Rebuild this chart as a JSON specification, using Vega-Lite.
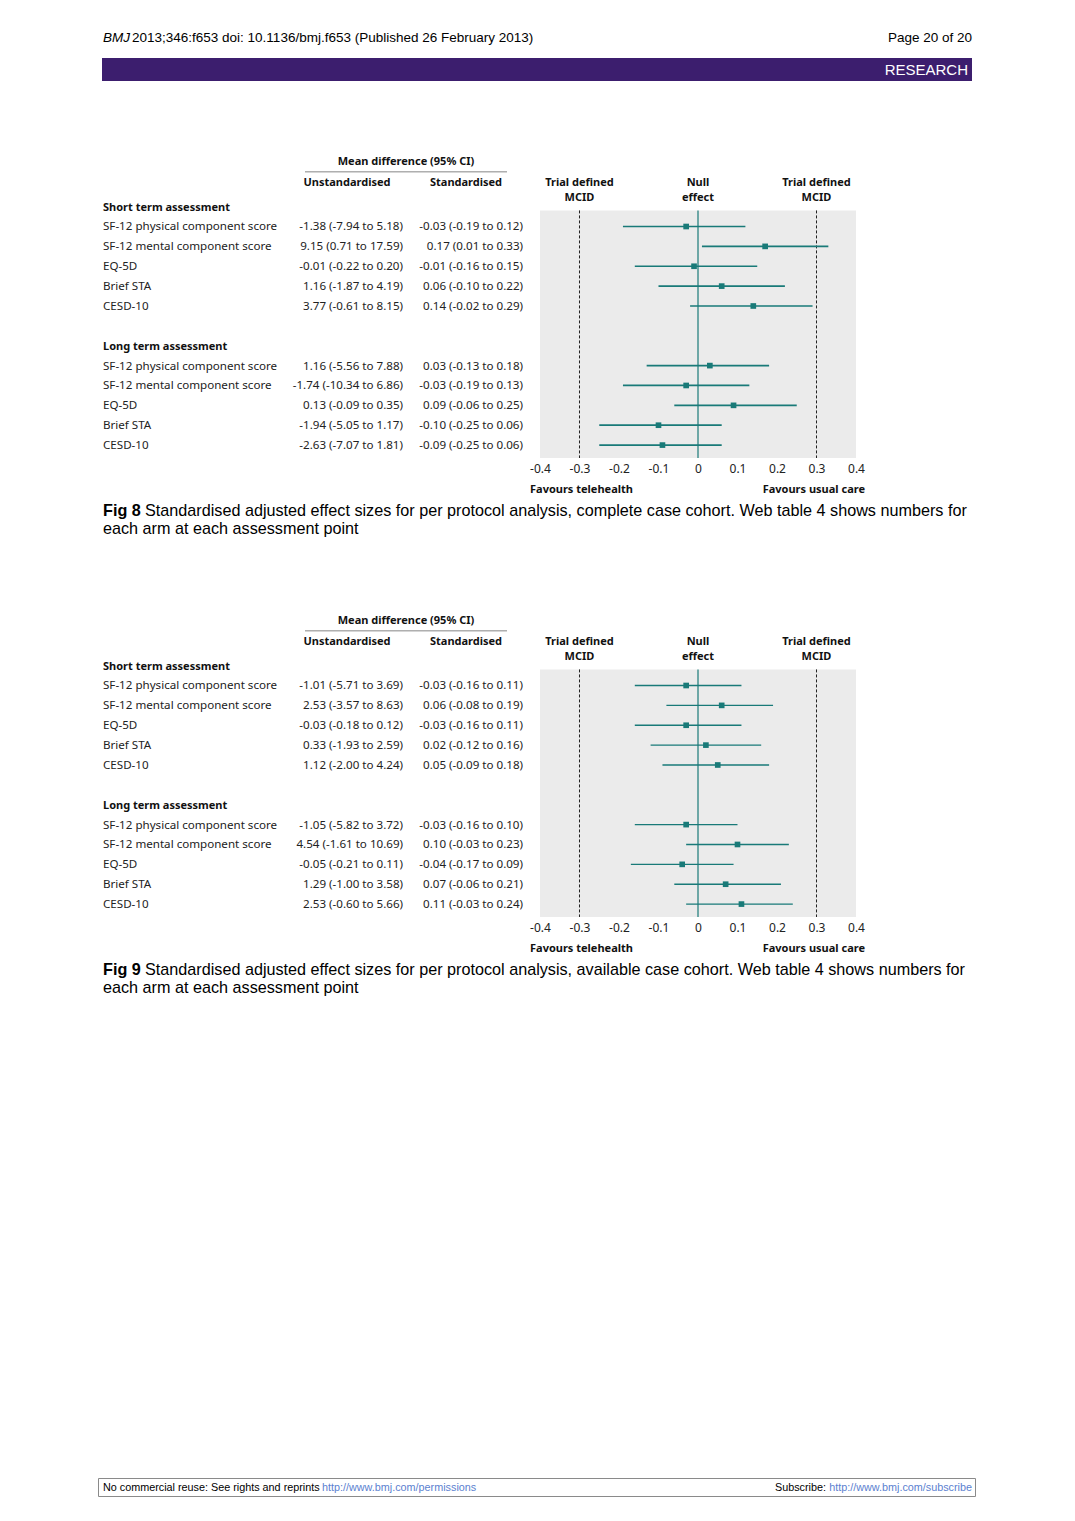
{
  "$schema": "https://vega.github.io/schema/vega-lite/v6.json",
  "background": "white",
  "padding": {"left": 98, "top": 0, "right": 0, "bottom": 0},
  "spacing": 0,
  "config": {"view": {"stroke": null}, "concat": {"spacing": 0}, "axisX": {"labelOverlap": false, "labelFlush": false, "labelBound": false}},
  "datasets": {
    "fig8": [
      {"row": 0, "label": "Short term assessment", "header": true},
      {"row": 1, "label": "SF-12 physical component score", "unstd": "-1.38 (-7.94 to 5.18)", "std": "-0.03 (-0.19 to 0.12)", "est": -0.03, "lo": -0.19, "hi": 0.12, "header": false},
      {"row": 2, "label": "SF-12 mental component score", "unstd": "9.15 (0.71 to 17.59)", "std": "0.17 (0.01 to 0.33)", "est": 0.17, "lo": 0.01, "hi": 0.33, "header": false},
      {"row": 3, "label": "EQ-5D", "unstd": "-0.01 (-0.22 to 0.20)", "std": "-0.01 (-0.16 to 0.15)", "est": -0.01, "lo": -0.16, "hi": 0.15, "header": false},
      {"row": 4, "label": "Brief STA", "unstd": "1.16 (-1.87 to 4.19)", "std": "0.06 (-0.10 to 0.22)", "est": 0.06, "lo": -0.10, "hi": 0.22, "header": false},
      {"row": 5, "label": "CESD-10", "unstd": "3.77 (-0.61 to 8.15)", "std": "0.14 (-0.02 to 0.29)", "est": 0.14, "lo": -0.02, "hi": 0.29, "header": false},
      {"row": 7, "label": "Long term assessment", "header": true},
      {"row": 8, "label": "SF-12 physical component score", "unstd": "1.16 (-5.56 to 7.88)", "std": "0.03 (-0.13 to 0.18)", "est": 0.03, "lo": -0.13, "hi": 0.18, "header": false},
      {"row": 9, "label": "SF-12 mental component score", "unstd": "-1.74 (-10.34 to 6.86)", "std": "-0.03 (-0.19 to 0.13)", "est": -0.03, "lo": -0.19, "hi": 0.13, "header": false},
      {"row": 10, "label": "EQ-5D", "unstd": "0.13 (-0.09 to 0.35)", "std": "0.09 (-0.06 to 0.25)", "est": 0.09, "lo": -0.06, "hi": 0.25, "header": false},
      {"row": 11, "label": "Brief STA", "unstd": "-1.94 (-5.05 to 1.17)", "std": "-0.10 (-0.25 to 0.06)", "est": -0.10, "lo": -0.25, "hi": 0.06, "header": false},
      {"row": 12, "label": "CESD-10", "unstd": "-2.63 (-7.07 to 1.81)", "std": "-0.09 (-0.25 to 0.06)", "est": -0.09, "lo": -0.25, "hi": 0.06, "header": false}
    ],
    "fig9": [
      {"row": 0, "label": "Short term assessment", "header": true},
      {"row": 1, "label": "SF-12 physical component score", "unstd": "-1.01 (-5.71 to 3.69)", "std": "-0.03 (-0.16 to 0.11)", "est": -0.03, "lo": -0.16, "hi": 0.11, "header": false},
      {"row": 2, "label": "SF-12 mental component score", "unstd": "2.53 (-3.57 to 8.63)", "std": "0.06 (-0.08 to 0.19)", "est": 0.06, "lo": -0.08, "hi": 0.19, "header": false},
      {"row": 3, "label": "EQ-5D", "unstd": "-0.03 (-0.18 to 0.12)", "std": "-0.03 (-0.16 to 0.11)", "est": -0.03, "lo": -0.16, "hi": 0.11, "header": false},
      {"row": 4, "label": "Brief STA", "unstd": "0.33 (-1.93 to 2.59)", "std": "0.02 (-0.12 to 0.16)", "est": 0.02, "lo": -0.12, "hi": 0.16, "header": false},
      {"row": 5, "label": "CESD-10", "unstd": "1.12 (-2.00 to 4.24)", "std": "0.05 (-0.09 to 0.18)", "est": 0.05, "lo": -0.09, "hi": 0.18, "header": false},
      {"row": 7, "label": "Long term assessment", "header": true},
      {"row": 8, "label": "SF-12 physical component score", "unstd": "-1.05 (-5.82 to 3.72)", "std": "-0.03 (-0.16 to 0.10)", "est": -0.03, "lo": -0.16, "hi": 0.10, "header": false},
      {"row": 9, "label": "SF-12 mental component score", "unstd": "4.54 (-1.61 to 10.69)", "std": "0.10 (-0.03 to 0.23)", "est": 0.10, "lo": -0.03, "hi": 0.23, "header": false},
      {"row": 10, "label": "EQ-5D", "unstd": "-0.05 (-0.21 to 0.11)", "std": "-0.04 (-0.17 to 0.09)", "est": -0.04, "lo": -0.17, "hi": 0.09, "header": false},
      {"row": 11, "label": "Brief STA", "unstd": "1.29 (-1.00 to 3.58)", "std": "0.07 (-0.06 to 0.21)", "est": 0.07, "lo": -0.06, "hi": 0.21, "header": false},
      {"row": 12, "label": "CESD-10", "unstd": "2.53 (-0.60 to 5.66)", "std": "0.11 (-0.03 to 0.24)", "est": 0.11, "lo": -0.03, "hi": 0.24, "header": false}
    ],
    "refs": [{"ref": -0.3, "l1": "Trial defined", "l2": "MCID"}, {"ref": 0, "l1": "Null", "l2": "effect"}, {"ref": 0.3, "l1": "Trial defined", "l2": "MCID"}]
  },
  "vconcat": [
    {
      "width": 878, "height": 150,
      "layer": [
        {"data": {"values": [{"t": "bar"}]}, "mark": {"type": "rect", "color": "#3c1e6e"}, "encoding": {"x": {"value": 4}, "x2": {"value": 874}, "y": {"value": 58}, "y2": {"value": 81}}},
        {"data": {"values": [{"t": "BMJ"}]}, "mark": {"type": "text", "align": "left", "baseline": "middle", "font": "Liberation Sans", "fontSize": 13.5, "fontStyle": "italic", "color": "#000"}, "encoding": {"x": {"value": 5}, "y": {"value": 38}, "text": {"field": "t"}}},
        {"data": {"values": [{"t": "2013;346:f653 doi: 10.1136/bmj.f653 (Published 26 February 2013)"}]}, "mark": {"type": "text", "align": "left", "baseline": "middle", "font": "Liberation Sans", "fontSize": 13.5, "color": "#000"}, "encoding": {"x": {"value": 34}, "y": {"value": 38}, "text": {"field": "t"}}},
        {"data": {"values": [{"t": "Page 20 of 20"}]}, "mark": {"type": "text", "align": "right", "baseline": "middle", "font": "Liberation Sans", "fontSize": 13.5, "color": "#000"}, "encoding": {"x": {"value": 874}, "y": {"value": 38}, "text": {"field": "t"}}},
        {"data": {"values": [{"t": "RESEARCH"}]}, "mark": {"type": "text", "align": "right", "baseline": "middle", "font": "Liberation Sans", "fontSize": 15, "color": "#ffffff"}, "encoding": {"x": {"value": 870}, "y": {"value": 70}, "text": {"field": "t"}}}
      ]
    },
    {
      "spacing": 0,
      "hconcat": [
        {
          "width": 431, "height": 350,
          "data": {"name": "fig8"},
          "layer": [
            {"transform": [{"filter": "datum.header"}], "mark": {"type": "text", "align": "left", "baseline": "middle", "dy": 1, "font": "Noto Sans", "fontSize": 11, "fontWeight": "bold", "color": "#111"}, "encoding": {"x": {"value": 5}, "y": {"field": "row", "type": "quantitative", "scale": {"domain": [-2.85, 14.765], "reverse": true, "nice": false, "zero": false}, "axis": null}, "text": {"field": "label"}}},
            {"transform": [{"filter": "!datum.header"}], "mark": {"type": "text", "align": "left", "baseline": "middle", "dy": 1, "font": "Noto Sans", "fontSize": 11.6, "color": "#222"}, "encoding": {"x": {"value": 5}, "y": {"field": "row", "type": "quantitative", "axis": null}, "text": {"field": "label"}}},
            {"transform": [{"filter": "!datum.header"}], "mark": {"type": "text", "align": "right", "baseline": "middle", "dy": 1, "font": "Noto Sans", "fontSize": 11.6, "color": "#222"}, "encoding": {"x": {"value": 305}, "y": {"field": "row", "type": "quantitative", "axis": null}, "text": {"field": "unstd"}}},
            {"transform": [{"filter": "!datum.header"}], "mark": {"type": "text", "align": "right", "baseline": "middle", "dy": 1, "font": "Noto Sans", "fontSize": 11.6, "color": "#222"}, "encoding": {"x": {"value": 425}, "y": {"field": "row", "type": "quantitative", "axis": null}, "text": {"field": "std"}}},
            {"data": {"values": [{"t": "Mean difference (95% CI)"}]}, "mark": {"type": "text", "align": "center", "baseline": "middle", "dy": 2, "font": "Noto Sans", "fontSize": 11, "fontWeight": "bold", "color": "#111"}, "encoding": {"x": {"value": 308}, "y": {"datum": -2.33, "type": "quantitative", "axis": null}, "text": {"field": "t"}}},
            {"data": {"values": [{"t": "line"}]}, "mark": {"type": "rule", "color": "#666", "strokeWidth": 0.8}, "encoding": {"x": {"value": 207}, "x2": {"value": 409}, "y": {"datum": -1.75, "type": "quantitative", "axis": null}}},
            {"data": {"values": [{"t": "Unstandardised"}]}, "mark": {"type": "text", "align": "center", "baseline": "middle", "dy": 1, "font": "Noto Sans", "fontSize": 11, "fontWeight": "bold", "color": "#111"}, "encoding": {"x": {"value": 249}, "y": {"datum": -1.22, "type": "quantitative", "axis": null}, "text": {"field": "t"}}},
            {"data": {"values": [{"t": "Standardised"}]}, "mark": {"type": "text", "align": "center", "baseline": "middle", "dy": 1, "font": "Noto Sans", "fontSize": 11, "fontWeight": "bold", "color": "#111"}, "encoding": {"x": {"value": 368}, "y": {"datum": -1.22, "type": "quantitative", "axis": null}, "text": {"field": "t"}}}
          ]
        },
        {
          "width": 316, "height": 308,
          "data": {"name": "fig8"},
          "layer": [
            {"data": {"values": [{"t": "panel"}]}, "mark": {"type": "rect", "color": "#ebebeb"}, "encoding": {"x": {"datum": -0.4, "type": "quantitative", "scale": {"domain": [-0.4, 0.4], "nice": false, "zero": false}, "axis": {"values": [-0.4, -0.3, -0.2, -0.1, 0, 0.1, 0.2, 0.3, 0.4], "tickCount": 9, "labelExpr": "'' + round(datum.value*10)/10", "title": null, "grid": false, "domain": false, "ticks": false, "tickSize": 0, "labelPadding": 5, "labelFont": "Noto Sans", "labelFontSize": 12, "labelColor": "#222", "labelFlush": false, "labelOverlap": false}}, "x2": {"datum": 0.4}, "y": {"datum": 0.19, "type": "quantitative", "scale": {"domain": [-2.85, 12.65], "reverse": true, "nice": false, "zero": false}, "axis": null}, "y2": {"datum": 12.65}}},
            {"data": {"values": [{"mcid": -0.3}, {"mcid": 0.3}]}, "mark": {"type": "rule", "color": "#222", "strokeDash": [3, 2], "strokeWidth": 1}, "encoding": {"x": {"field": "mcid", "type": "quantitative", "axis": {"values": [-0.4, -0.3, -0.2, -0.1, 0, 0.1, 0.2, 0.3, 0.4], "tickCount": 9, "labelExpr": "'' + round(datum.value*10)/10", "title": null, "grid": false, "domain": false, "ticks": false, "tickSize": 0, "labelPadding": 5, "labelFont": "Noto Sans", "labelFontSize": 12, "labelColor": "#222", "labelFlush": false, "labelOverlap": false}}, "y": {"datum": 0.19, "type": "quantitative", "axis": null}, "y2": {"datum": 12.65}}},
            {"data": {"values": [{"nullref": 0}]}, "mark": {"type": "rule", "color": "#197a78", "strokeWidth": 1.2}, "encoding": {"x": {"field": "nullref", "type": "quantitative", "axis": {"values": [-0.4, -0.3, -0.2, -0.1, 0, 0.1, 0.2, 0.3, 0.4], "tickCount": 9, "labelExpr": "'' + round(datum.value*10)/10", "title": null, "grid": false, "domain": false, "ticks": false, "tickSize": 0, "labelPadding": 5, "labelFont": "Noto Sans", "labelFontSize": 12, "labelColor": "#222", "labelFlush": false, "labelOverlap": false}}, "y": {"datum": 0.19, "type": "quantitative", "axis": null}, "y2": {"datum": 12.65}}},
            {"transform": [{"filter": "isValid(datum.est)"}], "mark": {"type": "rule", "color": "#197a78", "strokeWidth": 1.7}, "encoding": {"x": {"field": "lo", "type": "quantitative", "axis": {"values": [-0.4, -0.3, -0.2, -0.1, 0, 0.1, 0.2, 0.3, 0.4], "tickCount": 9, "labelExpr": "'' + round(datum.value*10)/10", "title": null, "grid": false, "domain": false, "ticks": false, "tickSize": 0, "labelPadding": 5, "labelFont": "Noto Sans", "labelFontSize": 12, "labelColor": "#222", "labelFlush": false, "labelOverlap": false}}, "x2": {"field": "hi"}, "y": {"field": "row", "type": "quantitative", "axis": null}}},
            {"transform": [{"filter": "isValid(datum.est)"}], "mark": {"type": "point", "shape": "square", "filled": true, "opacity": 1, "size": 32, "color": "#197a78"}, "encoding": {"x": {"field": "est", "type": "quantitative", "axis": {"values": [-0.4, -0.3, -0.2, -0.1, 0, 0.1, 0.2, 0.3, 0.4], "tickCount": 9, "labelExpr": "'' + round(datum.value*10)/10", "title": null, "grid": false, "domain": false, "ticks": false, "tickSize": 0, "labelPadding": 5, "labelFont": "Noto Sans", "labelFontSize": 12, "labelColor": "#222", "labelFlush": false, "labelOverlap": false}}, "y": {"field": "row", "type": "quantitative", "axis": null}}},
            {"data": {"name": "refs"}, "mark": {"type": "text", "align": "center", "baseline": "middle", "dy": 2, "font": "Noto Sans", "fontSize": 11, "fontWeight": "bold", "color": "#111"}, "encoding": {"x": {"field": "ref", "type": "quantitative"}, "y": {"datum": -1.27, "type": "quantitative", "axis": null}, "text": {"field": "l1"}}},
            {"data": {"name": "refs"}, "mark": {"type": "text", "align": "center", "baseline": "middle", "dy": 2, "font": "Noto Sans", "fontSize": 11, "fontWeight": "bold", "color": "#111"}, "encoding": {"x": {"field": "ref", "type": "quantitative"}, "y": {"datum": -0.51, "type": "quantitative", "axis": null}, "text": {"field": "l2"}}},
            {"data": {"values": [{"t": "Favours telehealth"}]}, "mark": {"type": "text", "align": "left", "baseline": "middle", "dx": -10, "dy": 1, "font": "Noto Sans", "fontSize": 11, "fontWeight": "bold", "color": "#111"}, "encoding": {"x": {"datum": -0.4, "type": "quantitative"}, "y": {"value": 339}, "text": {"field": "t"}}},
            {"data": {"values": [{"t": "Favours usual care"}]}, "mark": {"type": "text", "align": "right", "baseline": "middle", "dx": 9, "dy": 1, "font": "Noto Sans", "fontSize": 11, "fontWeight": "bold", "color": "#111"}, "encoding": {"x": {"datum": 0.4, "type": "quantitative"}, "y": {"value": 339}, "text": {"field": "t"}}}
          ]
        }
      ]
    },
    {
      "width": 878, "height": 109,
      "layer": [
        {"data": {"values": [{"t": "Fig 8"}]}, "mark": {"type": "text", "align": "left", "baseline": "middle", "font": "Liberation Sans", "fontSize": 16.2, "fontWeight": "bold", "color": "#000"}, "encoding": {"x": {"value": 5}, "y": {"value": 11}, "text": {"field": "t"}}},
        {"data": {"values": [{"t": "Standardised adjusted effect sizes for per protocol analysis, complete case cohort. Web table 4 shows numbers for"}]}, "mark": {"type": "text", "align": "left", "baseline": "middle", "font": "Liberation Sans", "fontSize": 16.2, "color": "#000"}, "encoding": {"x": {"value": 47}, "y": {"value": 11}, "text": {"field": "t"}}},
        {"data": {"values": [{"t": "each arm at each assessment point"}]}, "mark": {"type": "text", "align": "left", "baseline": "middle", "font": "Liberation Sans", "fontSize": 16.2, "color": "#000"}, "encoding": {"x": {"value": 5}, "y": {"value": 29}, "text": {"field": "t"}}}
      ]
    },
    {
      "spacing": 0,
      "hconcat": [
        {
          "width": 431, "height": 350,
          "data": {"name": "fig9"},
          "layer": [
            {"transform": [{"filter": "datum.header"}], "mark": {"type": "text", "align": "left", "baseline": "middle", "dy": 1, "font": "Noto Sans", "fontSize": 11, "fontWeight": "bold", "color": "#111"}, "encoding": {"x": {"value": 5}, "y": {"field": "row", "type": "quantitative", "scale": {"domain": [-2.85, 14.765], "reverse": true, "nice": false, "zero": false}, "axis": null}, "text": {"field": "label"}}},
            {"transform": [{"filter": "!datum.header"}], "mark": {"type": "text", "align": "left", "baseline": "middle", "dy": 1, "font": "Noto Sans", "fontSize": 11.6, "color": "#222"}, "encoding": {"x": {"value": 5}, "y": {"field": "row", "type": "quantitative", "axis": null}, "text": {"field": "label"}}},
            {"transform": [{"filter": "!datum.header"}], "mark": {"type": "text", "align": "right", "baseline": "middle", "dy": 1, "font": "Noto Sans", "fontSize": 11.6, "color": "#222"}, "encoding": {"x": {"value": 305}, "y": {"field": "row", "type": "quantitative", "axis": null}, "text": {"field": "unstd"}}},
            {"transform": [{"filter": "!datum.header"}], "mark": {"type": "text", "align": "right", "baseline": "middle", "dy": 1, "font": "Noto Sans", "fontSize": 11.6, "color": "#222"}, "encoding": {"x": {"value": 425}, "y": {"field": "row", "type": "quantitative", "axis": null}, "text": {"field": "std"}}},
            {"data": {"values": [{"t": "Mean difference (95% CI)"}]}, "mark": {"type": "text", "align": "center", "baseline": "middle", "dy": 2, "font": "Noto Sans", "fontSize": 11, "fontWeight": "bold", "color": "#111"}, "encoding": {"x": {"value": 308}, "y": {"datum": -2.33, "type": "quantitative", "axis": null}, "text": {"field": "t"}}},
            {"data": {"values": [{"t": "line"}]}, "mark": {"type": "rule", "color": "#666", "strokeWidth": 0.8}, "encoding": {"x": {"value": 207}, "x2": {"value": 409}, "y": {"datum": -1.75, "type": "quantitative", "axis": null}}},
            {"data": {"values": [{"t": "Unstandardised"}]}, "mark": {"type": "text", "align": "center", "baseline": "middle", "dy": 1, "font": "Noto Sans", "fontSize": 11, "fontWeight": "bold", "color": "#111"}, "encoding": {"x": {"value": 249}, "y": {"datum": -1.22, "type": "quantitative", "axis": null}, "text": {"field": "t"}}},
            {"data": {"values": [{"t": "Standardised"}]}, "mark": {"type": "text", "align": "center", "baseline": "middle", "dy": 1, "font": "Noto Sans", "fontSize": 11, "fontWeight": "bold", "color": "#111"}, "encoding": {"x": {"value": 368}, "y": {"datum": -1.22, "type": "quantitative", "axis": null}, "text": {"field": "t"}}}
          ]
        },
        {
          "width": 316, "height": 308,
          "data": {"name": "fig9"},
          "layer": [
            {"data": {"values": [{"t": "panel"}]}, "mark": {"type": "rect", "color": "#ebebeb"}, "encoding": {"x": {"datum": -0.4, "type": "quantitative", "scale": {"domain": [-0.4, 0.4], "nice": false, "zero": false}, "axis": {"values": [-0.4, -0.3, -0.2, -0.1, 0, 0.1, 0.2, 0.3, 0.4], "tickCount": 9, "labelExpr": "'' + round(datum.value*10)/10", "title": null, "grid": false, "domain": false, "ticks": false, "tickSize": 0, "labelPadding": 5, "labelFont": "Noto Sans", "labelFontSize": 12, "labelColor": "#222", "labelFlush": false, "labelOverlap": false}}, "x2": {"datum": 0.4}, "y": {"datum": 0.19, "type": "quantitative", "scale": {"domain": [-2.85, 12.65], "reverse": true, "nice": false, "zero": false}, "axis": null}, "y2": {"datum": 12.65}}},
            {"data": {"values": [{"mcid": -0.3}, {"mcid": 0.3}]}, "mark": {"type": "rule", "color": "#222", "strokeDash": [3, 2], "strokeWidth": 1}, "encoding": {"x": {"field": "mcid", "type": "quantitative", "axis": {"values": [-0.4, -0.3, -0.2, -0.1, 0, 0.1, 0.2, 0.3, 0.4], "tickCount": 9, "labelExpr": "'' + round(datum.value*10)/10", "title": null, "grid": false, "domain": false, "ticks": false, "tickSize": 0, "labelPadding": 5, "labelFont": "Noto Sans", "labelFontSize": 12, "labelColor": "#222", "labelFlush": false, "labelOverlap": false}}, "y": {"datum": 0.19, "type": "quantitative", "axis": null}, "y2": {"datum": 12.65}}},
            {"data": {"values": [{"nullref": 0}]}, "mark": {"type": "rule", "color": "#197a78", "strokeWidth": 1.2}, "encoding": {"x": {"field": "nullref", "type": "quantitative", "axis": {"values": [-0.4, -0.3, -0.2, -0.1, 0, 0.1, 0.2, 0.3, 0.4], "tickCount": 9, "labelExpr": "'' + round(datum.value*10)/10", "title": null, "grid": false, "domain": false, "ticks": false, "tickSize": 0, "labelPadding": 5, "labelFont": "Noto Sans", "labelFontSize": 12, "labelColor": "#222", "labelFlush": false, "labelOverlap": false}}, "y": {"datum": 0.19, "type": "quantitative", "axis": null}, "y2": {"datum": 12.65}}},
            {"transform": [{"filter": "isValid(datum.est)"}], "mark": {"type": "rule", "color": "#197a78", "strokeWidth": 1.4}, "encoding": {"x": {"field": "lo", "type": "quantitative", "axis": {"values": [-0.4, -0.3, -0.2, -0.1, 0, 0.1, 0.2, 0.3, 0.4], "tickCount": 9, "labelExpr": "'' + round(datum.value*10)/10", "title": null, "grid": false, "domain": false, "ticks": false, "tickSize": 0, "labelPadding": 5, "labelFont": "Noto Sans", "labelFontSize": 12, "labelColor": "#222", "labelFlush": false, "labelOverlap": false}}, "x2": {"field": "hi"}, "y": {"field": "row", "type": "quantitative", "axis": null}}},
            {"transform": [{"filter": "isValid(datum.est)"}], "mark": {"type": "point", "shape": "square", "filled": true, "opacity": 1, "size": 32, "color": "#197a78"}, "encoding": {"x": {"field": "est", "type": "quantitative", "axis": {"values": [-0.4, -0.3, -0.2, -0.1, 0, 0.1, 0.2, 0.3, 0.4], "tickCount": 9, "labelExpr": "'' + round(datum.value*10)/10", "title": null, "grid": false, "domain": false, "ticks": false, "tickSize": 0, "labelPadding": 5, "labelFont": "Noto Sans", "labelFontSize": 12, "labelColor": "#222", "labelFlush": false, "labelOverlap": false}}, "y": {"field": "row", "type": "quantitative", "axis": null}}},
            {"data": {"name": "refs"}, "mark": {"type": "text", "align": "center", "baseline": "middle", "dy": 2, "font": "Noto Sans", "fontSize": 11, "fontWeight": "bold", "color": "#111"}, "encoding": {"x": {"field": "ref", "type": "quantitative"}, "y": {"datum": -1.27, "type": "quantitative", "axis": null}, "text": {"field": "l1"}}},
            {"data": {"name": "refs"}, "mark": {"type": "text", "align": "center", "baseline": "middle", "dy": 2, "font": "Noto Sans", "fontSize": 11, "fontWeight": "bold", "color": "#111"}, "encoding": {"x": {"field": "ref", "type": "quantitative"}, "y": {"datum": -0.51, "type": "quantitative", "axis": null}, "text": {"field": "l2"}}},
            {"data": {"values": [{"t": "Favours telehealth"}]}, "mark": {"type": "text", "align": "left", "baseline": "middle", "dx": -10, "dy": 1, "font": "Noto Sans", "fontSize": 11, "fontWeight": "bold", "color": "#111"}, "encoding": {"x": {"datum": -0.4, "type": "quantitative"}, "y": {"value": 339}, "text": {"field": "t"}}},
            {"data": {"values": [{"t": "Favours usual care"}]}, "mark": {"type": "text", "align": "right", "baseline": "middle", "dx": 9, "dy": 1, "font": "Noto Sans", "fontSize": 11, "fontWeight": "bold", "color": "#111"}, "encoding": {"x": {"datum": 0.4, "type": "quantitative"}, "y": {"value": 339}, "text": {"field": "t"}}}
          ]
        }
      ]
    },
    {
      "width": 878, "height": 109,
      "layer": [
        {"data": {"values": [{"t": "Fig 9"}]}, "mark": {"type": "text", "align": "left", "baseline": "middle", "font": "Liberation Sans", "fontSize": 16.2, "fontWeight": "bold", "color": "#000"}, "encoding": {"x": {"value": 5}, "y": {"value": 11}, "text": {"field": "t"}}},
        {"data": {"values": [{"t": "Standardised adjusted effect sizes for per protocol analysis, available case cohort. Web table 4 shows numbers for"}]}, "mark": {"type": "text", "align": "left", "baseline": "middle", "font": "Liberation Sans", "fontSize": 16.2, "color": "#000"}, "encoding": {"x": {"value": 47}, "y": {"value": 11}, "text": {"field": "t"}}},
        {"data": {"values": [{"t": "each arm at each assessment point"}]}, "mark": {"type": "text", "align": "left", "baseline": "middle", "font": "Liberation Sans", "fontSize": 16.2, "color": "#000"}, "encoding": {"x": {"value": 5}, "y": {"value": 29}, "text": {"field": "t"}}}
      ]
    },
    {
      "width": 878, "height": 429,
      "layer": [
        {"data": {"values": [{"t": "box"}]}, "mark": {"type": "rect", "filled": false, "stroke": "#8a8a8a", "strokeWidth": 1}, "encoding": {"x": {"value": 0.5}, "x2": {"value": 877.5}, "y": {"value": 410.5}, "y2": {"value": 428.5}}},
        {"data": {"values": [{"t": "No commercial reuse: See rights and reprints"}]}, "mark": {"type": "text", "align": "left", "baseline": "middle", "font": "Liberation Sans", "fontSize": 10.8, "color": "#000"}, "encoding": {"x": {"value": 5}, "y": {"value": 419.5}, "text": {"field": "t"}}},
        {"data": {"values": [{"t": "http://www.bmj.com/permissions"}]}, "mark": {"type": "text", "align": "left", "baseline": "middle", "font": "Liberation Sans", "fontSize": 10.8, "color": "#5b7fd0"}, "encoding": {"x": {"value": 224}, "y": {"value": 419.5}, "text": {"field": "t"}}},
        {"data": {"values": [{"t": "Subscribe:"}]}, "mark": {"type": "text", "align": "right", "baseline": "middle", "font": "Liberation Sans", "fontSize": 10.8, "color": "#000"}, "encoding": {"x": {"value": 728}, "y": {"value": 419.5}, "text": {"field": "t"}}},
        {"data": {"values": [{"t": "http://www.bmj.com/subscribe"}]}, "mark": {"type": "text", "align": "right", "baseline": "middle", "font": "Liberation Sans", "fontSize": 10.8, "color": "#5b7fd0"}, "encoding": {"x": {"value": 874}, "y": {"value": 419.5}, "text": {"field": "t"}}}
      ]
    }
  ]
}
